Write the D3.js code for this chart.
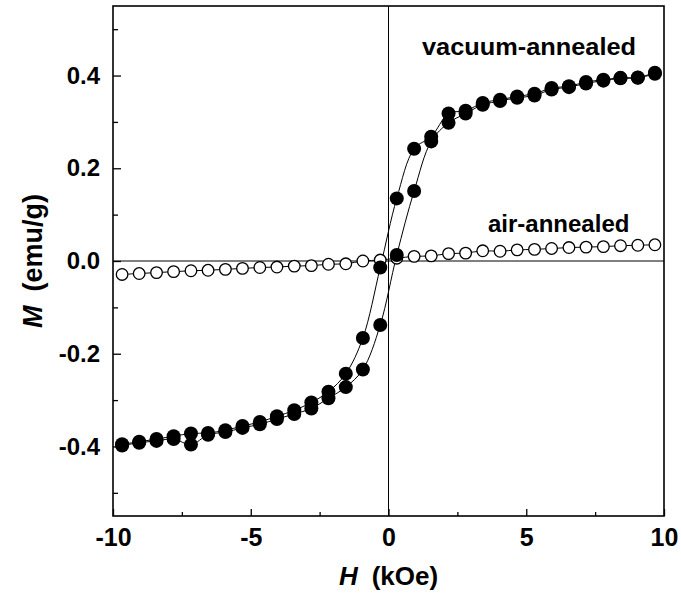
<!DOCTYPE html>
<html>
<head>
<meta charset="utf-8">
<script src="https://cdn.jsdelivr.net/npm/d3@7"></script>
<style>
  body { margin: 0; background: #fff; }
  svg text { font-family: "Liberation Sans", Arial, sans-serif; font-weight: bold; fill: #000; }
</style>
</head>
<body>
<svg id="chart" width="681" height="595"></svg>
<script>
// field values (kOe), same for every branch
const fieldH = [-9.67, -9.05, -8.42, -7.8, -7.17, -6.55, -5.92, -5.3, -4.67, -4.05, -3.42, -2.8, -2.18, -1.55, -0.93, -0.3,
                0.3, 0.93, 1.55, 2.18, 2.8, 3.42, 4.05, 4.67, 5.3, 5.92, 6.55, 7.17, 7.8, 8.42, 9.05, 9.67]

// vacuum-annealed, descending branch (upper/left curve)
const vacDown = [-0.395, -0.390, -0.384, -0.378, -0.372, -0.371, -0.365, -0.356, -0.347, -0.335, -0.322, -0.305, -0.282, -0.243, -0.166, -0.014,
                 0.135, 0.242, 0.268, 0.318, 0.324, 0.341, 0.348, 0.355, 0.361, 0.373, 0.377, 0.386, 0.391, 0.395, 0.396, 0.406]
// vacuum-annealed, ascending branch (lower/right curve)
const vacUp = [-0.398, -0.392, -0.388, -0.384, -0.396, -0.375, -0.369, -0.360, -0.352, -0.341, -0.330, -0.318, -0.296, -0.272, -0.234, -0.138,
               0.013, 0.151, 0.258, 0.298, 0.318, 0.337, 0.345, 0.352, 0.357, 0.370, 0.375, 0.383, 0.389, 0.394, 0.395, 0.404]

// air-annealed
const airM = [-0.029, -0.027, -0.025, -0.023, -0.021, -0.020, -0.018, -0.016, -0.014, -0.013, -0.011, -0.010, -0.007, -0.006, 0.000, 0.002,
              0.006, 0.010, 0.011, 0.016, 0.017, 0.022, 0.021, 0.024, 0.025, 0.027, 0.029, 0.030, 0.031, 0.033, 0.034, 0.035]

const xMajor = [-10, -5, 0, 5, 10]
const xMinor = [-7.5, -2.5, 2.5, 7.5]
const yMajor = [-0.4, -0.2, 0.0, 0.2, 0.4]
const yMinor = [-0.5, -0.3, -0.1, 0.1, 0.3, 0.5]

const svg = d3.select("#chart")

const x = d3.scaleLinear().domain([-10, 10]).range([113, 664])
const y = d3.scaleLinear().domain([0.55, -0.55]).range([6, 516])

// zero lines
svg.append("line")
    .attr("x1", x(-10)).attr("x2", x(10))
    .attr("y1", y(0)).attr("y2", y(0))
    .attr("stroke", "#000").attr("stroke-width", 1)
svg.append("line")
    .attr("x1", x(0)).attr("x2", x(0))
    .attr("y1", y(0.55)).attr("y2", y(-0.55))
    .attr("stroke", "#000").attr("stroke-width", 1)

// axes, ticks pointing inward
const xAxis = svg.append("g")
    .attr("transform", `translate(0,${y(-0.55)})`)
    .call(d3.axisBottom(x).tickValues(xMajor).tickSizeInner(-7).tickSizeOuter(0).tickPadding(12)
        .tickFormat(d => String(d)))
xAxis.selectAll("text").style("font-size", "25px")

svg.append("g")
    .attr("transform", `translate(0,${y(-0.55)})`)
    .call(d3.axisBottom(x).tickValues(xMinor).tickSizeInner(-4).tickSizeOuter(0).tickFormat(""))

const yAxis = svg.append("g")
    .attr("transform", `translate(${x(-10)},0)`)
    .call(d3.axisLeft(y).tickValues(yMajor).tickSizeInner(-8).tickSizeOuter(0).tickPadding(13)
        .tickFormat(d => d.toFixed(1)))
yAxis.selectAll("text").style("font-size", "24px")

svg.append("g")
    .attr("transform", `translate(${x(-10)},0)`)
    .call(d3.axisLeft(y).tickValues(yMinor).tickSizeInner(-5).tickSizeOuter(0).tickFormat(""))

svg.selectAll(".domain").remove()
svg.selectAll(".tick line").attr("stroke", "#000").attr("stroke-width", 1.3)

// frame
svg.append("rect")
    .attr("x", x(-10)).attr("y", y(0.55))
    .attr("width", x(10) - x(-10)).attr("height", y(-0.55) - y(0.55))
    .attr("fill", "none").attr("stroke", "#000").attr("stroke-width", 1.6)

// branches
const line = d3.line()
    .x(d => x(d[0])).y(d => y(d[1]))
    .curve(d3.curveCatmullRom)

const downPts = fieldH.map((h, i) => [h, vacDown[i]])
const upPts = fieldH.map((h, i) => [h, vacUp[i]])
const airPts = fieldH.map((h, i) => [h, airM[i]])

for (const pts of [downPts, upPts, airPts]) {
    svg.append("path")
        .attr("d", line(pts))
        .attr("fill", "none").attr("stroke", "#000").attr("stroke-width", 1)
}

svg.append("g").selectAll("circle")
    .data(airPts)
    .enter()
    .append("circle")
    .attr("cx", d => x(d[0])).attr("cy", d => y(d[1]))
    .attr("r", 5.8)
    .attr("fill", "#fff").attr("stroke", "#000").attr("stroke-width", 1.3)

svg.append("g").selectAll("circle")
    .data(downPts.concat(upPts))
    .enter()
    .append("circle")
    .attr("cx", d => x(d[0])).attr("cy", d => y(d[1]))
    .attr("r", 7)
    .attr("fill", "#000")

// labels
svg.append("text")
    .attr("x", 422).attr("y", 55)
    .attr("textLength", 214).attr("lengthAdjust", "spacingAndGlyphs")
    .style("font-size", "24px")
    .text("vacuum-annealed")

svg.append("text")
    .attr("x", 488).attr("y", 232)
    .style("font-size", "24px")
    .text("air-annealed")

// axis titles
const xTitle = svg.append("text")
    .attr("x", x(0)).attr("y", 585)
    .attr("text-anchor", "middle")
    .style("font-size", "26px")
xTitle.append("tspan").style("font-style", "italic").text("H")
xTitle.append("tspan").attr("dx", 14).text("(kOe)")

const yTitle = svg.append("text")
    .attr("transform", `translate(42,${y(0)}) rotate(-90)`)
    .attr("text-anchor", "middle")
    .style("font-size", "27px")
yTitle.append("tspan").style("font-style", "italic").text("M")
yTitle.append("tspan").attr("dx", 14).text("(emu/g)")
</script>
</body>
</html>
